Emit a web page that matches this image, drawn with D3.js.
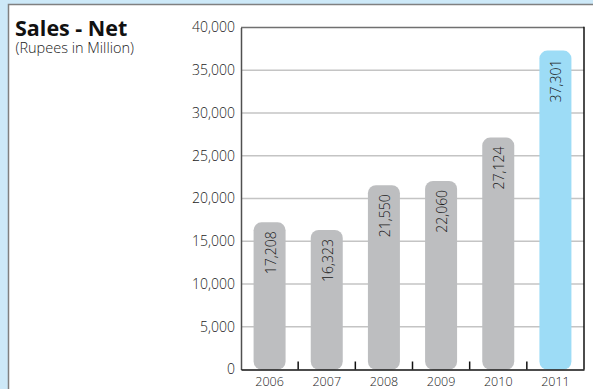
<!DOCTYPE html>
<html>
<head>
<meta charset="utf-8">
<script src="https://cdn.jsdelivr.net/npm/d3@7/dist/d3.min.js"></script>
<style>
  html, body { margin: 0; padding: 0; background: #cde9f8; }
  svg { display: block; }
</style>
</head>
<body>
<svg id="chart" width="593" height="389"></svg>
<script>
// Net sales by year (Rupees in Million)
const years = ["2006", "2007", "2008", "2009", "2010", "2011"];
const sales = [17208, 16323, 21550, 22060, 27124, 37301];
const yTicks = [0, 5000, 10000, 15000, 20000, 25000, 30000, 35000, 40000];
const highlightYear = "2011";

(function draw() {
  const svg = d3.select("#chart");
  const W = 593, H = 389;
  const font = "'Open Sans', 'Noto Sans', sans-serif";

  // White panel framed on the light-blue page
  svg.append("rect")
    .attr("x", 8.5).attr("y", 4.5)
    .attr("width", W + 10).attr("height", H + 10)
    .attr("fill", "#ffffff")
    .attr("stroke", "#808080").attr("stroke-width", 1.5);

  // Heading
  svg.append("text")
    .attr("x", 15).attr("y", 35.5)
    .attr("font-family", font).attr("font-weight", "bold")
    .attr("font-size", 21.5).attr("fill", "#111")
    .text("Sales - Net");
  svg.append("text")
    .attr("x", 15.5).attr("y", 53)
    .attr("font-family", font).attr("font-weight", 300)
    .attr("font-size", 14.5).attr("fill", "#222")
    .text("(Rupees in Million)");

  const mLeft = 241, mRight = 584, mTop = 27.5, mBottom = 369.5;

  const x = d3.scaleBand().domain(years).range([mLeft, mRight]).paddingInner(0).paddingOuter(0);
  const y = d3.scaleLinear().domain([0, 40000]).range([mBottom, mTop]);

  // Horizontal gridlines
  svg.append("g")
    .selectAll("line")
    .data(yTicks.filter(t => t > 0 && t < 40000))
    .join("line")
    .attr("x1", mLeft).attr("x2", mRight)
    .attr("y1", d => y(d)).attr("y2", d => y(d))
    .attr("stroke", "#c4c4c4").attr("stroke-width", 1.5);

  // Plot frame: top and right edges
  svg.append("line")
    .attr("x1", mLeft).attr("x2", mRight)
    .attr("y1", y(40000)).attr("y2", y(40000))
    .attr("stroke", "#707070").attr("stroke-width", 1.5);
  svg.append("line")
    .attr("x1", mRight).attr("x2", mRight)
    .attr("y1", y(40000) - 0.75).attr("y2", mBottom)
    .attr("stroke", "#111").attr("stroke-width", 1.5);

  // Y axis
  const yAxis = d3.axisLeft(y)
    .tickValues(yTicks)
    .tickSize(0)
    .tickPadding(6)
    .tickFormat(d3.format(","));
  const gy = svg.append("g").attr("transform", `translate(${mLeft},0)`).call(yAxis);
  gy.select(".domain").attr("stroke", "#505050").attr("stroke-width", 1.5);
  gy.selectAll("text")
    .attr("font-family", font).attr("font-weight", 300)
    .attr("font-size", 14).attr("fill", "#1a1a1a");

  // Bars with rounded ends
  const barW = 32;
  const r = 8;
  const rows = years.map((yr, i) => ({ yr, v: sales[i] }));
  svg.append("g")
    .selectAll("rect")
    .data(rows)
    .join("rect")
    .attr("x", d => x(d.yr) + x.bandwidth() / 2 - barW / 2)
    .attr("y", d => y(d.v))
    .attr("width", barW)
    .attr("height", d => mBottom - y(d.v))
    .attr("rx", r).attr("ry", r)
    .attr("fill", d => d.yr === highlightYear ? "#9ddcf6" : "#bdbec0");

  // Value labels, rotated, just under each bar top
  svg.append("g")
    .selectAll("text")
    .data(rows)
    .join("text")
    .attr("transform", d => `translate(${x(d.yr) + x.bandwidth() / 2 + 6},${y(d.v) + 9}) rotate(-90)`)
    .attr("text-anchor", "end")
    .attr("font-family", font).attr("font-weight", 300)
    .attr("font-size", 14).attr("fill", "#1a1a1a")
    .text(d => d3.format(",")(d.v));

  // X axis with short inward ticks between categories
  const xAxis = d3.axisBottom(x).tickSize(0).tickPadding(8);
  const gx = svg.append("g").attr("transform", `translate(0,${mBottom})`).call(xAxis);
  gx.select(".domain").attr("stroke", "#111").attr("stroke-width", 1.5);
  gx.selectAll("text")
    .attr("font-family", font).attr("font-weight", 300)
    .attr("font-size", 12.5).attr("fill", "#1a1a1a");

  svg.append("g")
    .selectAll("line")
    .data(years.slice(1))
    .join("line")
    .attr("x1", d => x(d)).attr("x2", d => x(d))
    .attr("y1", mBottom - 8).attr("y2", mBottom)
    .attr("stroke", "#111").attr("stroke-width", 1.5);
})();
</script>
</body>
</html>
